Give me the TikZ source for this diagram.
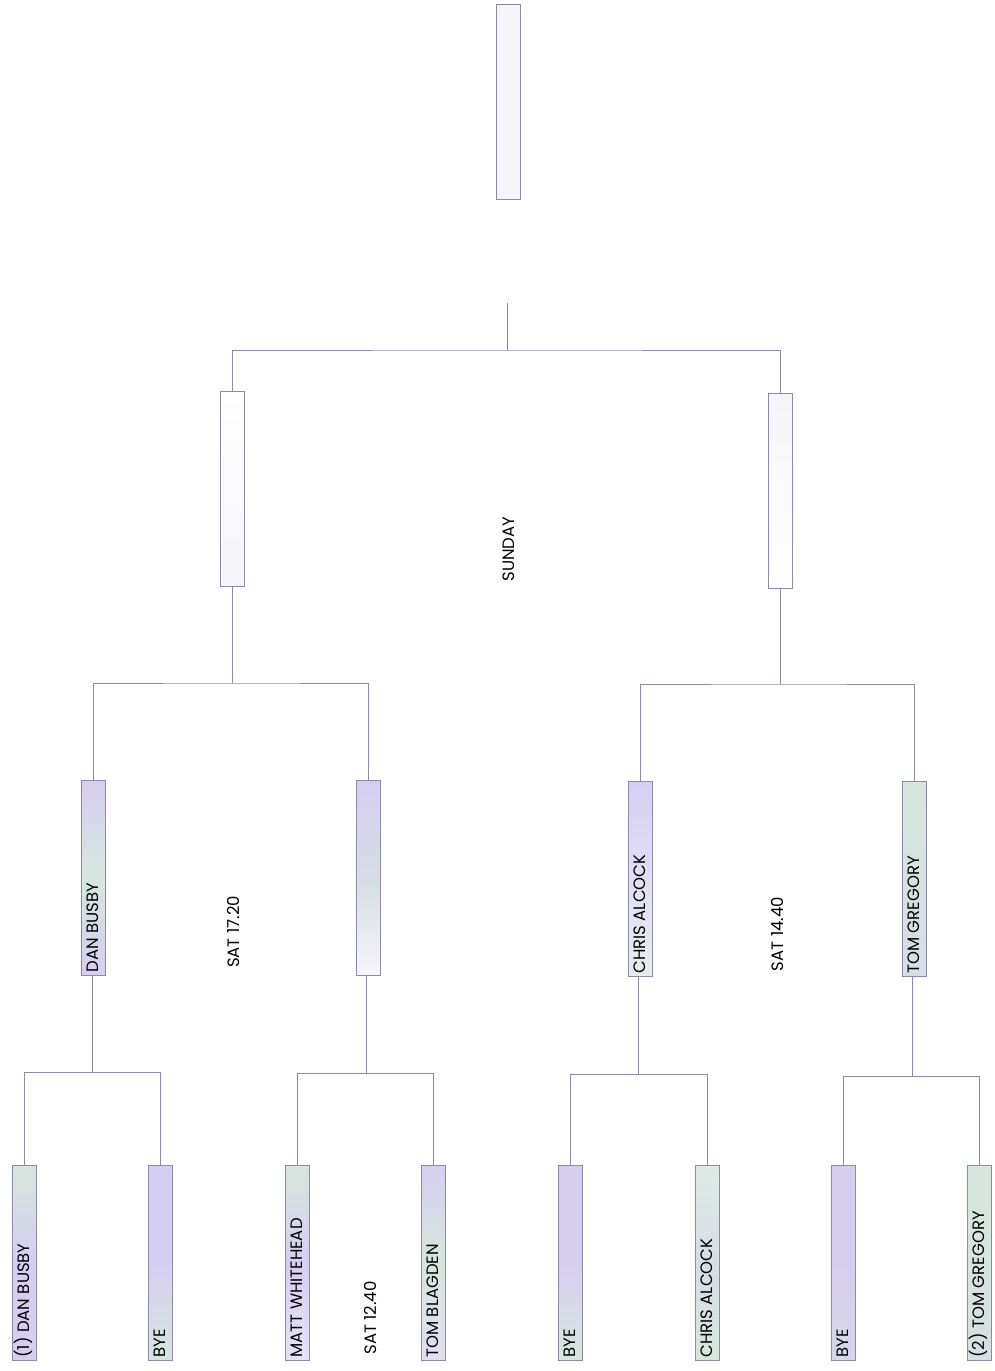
\documentclass[tikz,border=0pt]{standalone}
\usepackage{fontspec}
\setmainfont{Poppins}
\usepackage{graphicx}
\usepackage{xcolor}
\definecolor{Soft Lavender}{HTML}{D6CEF0}
\definecolor{Pale Mint}{HTML}{D6E6DC}
\definecolor{Ghost White}{HTML}{F5F5FA}
\definecolor{Slate Line}{HTML}{8A8CA6}
\colorlet{cLav}{Soft Lavender}
\colorlet{cMint}{Pale Mint}
\colorlet{cPale}{Ghost White}
\colorlet{cLine}{Slate Line}
\usepackage{tikz}
\tikzset{
	font = \fontsize{16.5}{18}\selectfont,
	slot/.style={
		draw=cLine,
		line width=.7pt,
		minimum width=24pt,
		minimum height=195pt,
		inner sep=0pt
	},
	link/.style={
		draw=cLine,
		line width=.8pt
	},
	day/.style={
		rotate=90,
		inner sep=0pt
	}
}
\newcommand{\slottext}[1]{\rotatebox{90}{\makebox[191pt][l]{\hspace{1pt}\rule[-3.8pt]{0pt}{19.3pt}#1}}}

\begin{document}
\begin{tikzpicture}[x=1pt, y=-1pt]
		\useasboundingbox (0,0) rectangle (994,1371);

		% final and semi-finals
		\node[slot, fill=cPale] at (508,102) (fin) {};
		\node[slot, top color=white, bottom color=cPale] at (232,489) (sf1) {};
		\node[slot, top color=cPale, bottom color=white] at (780,491) (sf2) {};

		% quarter-finals
		\node[slot, top color=cLav, bottom color=cLav, middle color=cMint] at (93,878) (qf1) {\slottext{DAN BUSBY}};
		\node[slot, top color=cLav, bottom color=cPale, middle color=cMint!60!cLav] at (368,878) (qf2) {};
		\node[slot, top color=cLav, bottom color=cMint!50!cPale, middle color=cLav!60!cPale] at (640,879) (qf3) {\slottext{CHRIS ALCOCK}};
		\node[slot, top color=cMint, bottom color=cMint!60!cLav] at (914,879) (qf4) {\slottext{TOM GREGORY}};

		% first round
		\node[slot, top color=cMint, bottom color=cLav, middle color=cLav] at (24,1263) (r1) {\slottext{(1) DAN BUSBY}};
		\node[slot, top color=cLav, bottom color=cMint, middle color=cLav] at (160,1263) (r2) {\slottext{BYE}};
		\node[slot, top color=cMint, bottom color=cLav!50!cPale, middle color=cLav] at (297,1263) (r3) {\slottext{MATT WHITEHEAD}};
		\node[slot, top color=cLav, bottom color=cLav!60!cPale, middle color=cMint] at (433,1263) (r4) {\slottext{TOM BLAGDEN}};
		\node[slot, top color=cLav, bottom color=cMint, middle color=cLav] at (570,1263) (r5) {\slottext{BYE}};
		\node[slot, top color=cMint!70!cPale, bottom color=cMint, middle color=cMint!60!cLav] at (707,1263) (r6) {\slottext{CHRIS ALCOCK}};
		\node[slot, top color=cLav, bottom color=cLav!70!cMint, middle color=cLav] at (843,1263) (r7) {\slottext{BYE}};
		\node[slot, top color=cMint, bottom color=cMint!70!cLav] at (979,1263) (r8) {\slottext{(2) TOM GREGORY}};

		% match times
		\node[day] at (509,549) (sun) {SUNDAY};
		\node[day] at (233,932) (sat1) {SAT 17.20};
		\node[day] at (777,934) (sat2) {SAT 14.40};
		\node[day] at (370,1318) (sat3) {SAT 12.40};

		% bracket junctions
		\coordinate (j1) at (92,1072);
		\coordinate (j2) at (366,1073);
		\coordinate (j3) at (638,1074);
		\coordinate (j4) at (912,1076);
		\coordinate (k1) at (232,683);
		\coordinate (k2) at (780,684);
		\coordinate (m0) at (507,350);
		\coordinate (top) at (507,303);

		\draw[link] (r1.north) |- (j1) -| (r2.north);
		\draw[link] (r3.north) |- (j2) -| (r4.north);
		\draw[link] (r5.north) |- (j3) -| (r6.north);
		\draw[link] (r7.north) |- (j4) -| (r8.north);
		\draw[link] (j1) -- (j1 |- qf1.south);
		\draw[link] (j2) -- (j2 |- qf2.south);
		\draw[link] (j3) -- (j3 |- qf3.south);
		\draw[link] (j4) -- (j4 |- qf4.south);

		\draw[link] (qf1.north) |- (k1) -| (qf2.north);
		\draw[link] (qf3.north) |- (k2) -| (qf4.north);
		\draw[link] (k1) -- (sf1.south);
		\draw[link] (k2) -- (sf2.south);

		\draw[link] (sf1.north) |- (m0) -| (sf2.north);
		\draw[link] (m0) -- (top);
	\end{tikzpicture}
\end{document}
